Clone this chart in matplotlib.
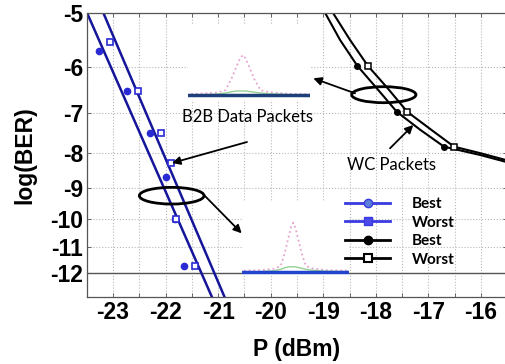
import numpy as np
import matplotlib
matplotlib.use("Agg")
import matplotlib.pyplot as plt
from matplotlib.lines import Line2D
from matplotlib.patches import Ellipse

plt.rcParams['axes.unicode_minus'] = False
plt.rcParams['font.family'] = ['Liberation Sans', 'DejaVu Sans']

# B2B data packets (blue)
b2b_best_p = [-23.26, -22.73, -22.29, -21.99, -21.82, -21.65]
b2b_best_ber = [-5.67, -6.50, -7.49, -8.69, -10.0, -11.71]
b2b_worst_p = [-23.05, -22.52, -22.08, -21.90, -21.80, -21.44]
b2b_worst_ber = [-5.50, -6.50, -7.49, -8.27, -10.0, -11.71]
b2b_best_fit_p = [-23.49, -21.12]
b2b_best_fit_ber = [-5.0, -13.0]
b2b_worst_fit_p = [-23.18, -20.88]
b2b_worst_fit_ber = [-5.0, -13.0]

# WC packets (black)
wc_best_p = [-18.35, -17.60, -16.70]
wc_best_ber = [-5.97, -6.97, -7.84]
wc_worst_p = [-18.15, -17.40, -16.51]
wc_worst_ber = [-5.97, -6.97, -7.84]
wc_best_fit_p = [-18.96, -18.68, -18.35, -17.98, -17.60, -17.15, -16.70, -16.02, -15.50]
wc_best_fit_ber = [-5.0, -5.47, -5.97, -6.44, -6.97, -7.41, -7.84, -8.06, -8.26]
wc_worst_fit_p = [-18.81, -18.49, -18.15, -17.78, -17.40, -16.95, -16.51, -16.02, -15.50]
wc_worst_fit_ber = [-5.0, -5.47, -5.97, -6.43, -6.97, -7.40, -7.84, -8.01, -8.21]

# inset spectra (relative frequency, normalised power)
spec_offset = [-1.3, -0.8, -0.45, -0.3, -0.2, -0.1, -0.05, 0.0, 0.05, 0.1, 0.2, 0.3, 0.45, 0.8, 1.4]
spec_pink = [0.02, 0.03, 0.06, 0.12, 0.4, 0.75, 0.92, 1.0, 0.9, 0.72, 0.38, 0.12, 0.07, 0.03, 0.02]
spec_green = [0, 0, 0.02, 0.05, 0.08, 0.1, 0.1, 0.1, 0.1, 0.09, 0.07, 0.05, 0.03, 0.01, 0]
spec_base = [0] * len(spec_offset)

x_ticks = [-23, -22, -21, -20, -19, -18, -17, -16]
y_ticks = [-5, -6, -7, -8, -9, -10, -11, -12]

W, H = 505, 364


def px(x, y):
    return (x / W, 1 - y / H)


def box(x0, y0, x1, y1):
    return [x0 / W, 1 - y1 / H, (x1 - x0) / W, (y1 - y0) / H]


fig = plt.figure(figsize=(5.05, 3.64), dpi=100)
ax = fig.add_axes(box(86.7, 13.3, 507.2, 296.7))


def fwd(v):
    with np.errstate(invalid='ignore', divide='ignore'):
        return -np.log10(-np.asarray(v, dtype=float))


def inv(u):
    return -10 ** (-np.asarray(u, dtype=float))


ax.set_yscale('function', functions=(fwd, inv))
ax.set_xlim(-23.5, -15.5)
ax.set_ylim(-13, -5)
ax.set_xticks(x_ticks)
ax.set_xticks(np.arange(-23.5, -15.4, 0.5), minor=True)
ax.set_yticks(y_ticks)
ax.set_yticklabels([str(t) for t in y_ticks])
ax.set_xticklabels([str(t) for t in x_ticks])
ax.grid(True, which='both', axis='x', ls=':', color='#b8b8b8', lw=0.8)
ax.grid(True, which='major', axis='y', ls=':', color='#b8b8b8', lw=0.8)
ax.tick_params(which='both', direction='in', top=True, right=True, length=3,
               width=0.7, color='#666666')
ax.tick_params(axis='x', pad=3)
ax.tick_params(axis='y', pad=2.7)
for lab in ax.get_xticklabels() + ax.get_yticklabels():
    lab.set_fontsize(16.5)
    lab.set_fontweight('bold')
for s in ax.spines.values():
    s.set_color('#555555')
    s.set_linewidth(0.9)

ax.axhline(-12, color='#555555', lw=1)

ax.plot(b2b_best_fit_p, b2b_best_fit_ber, color='#15159a', lw=1.8)
ax.plot(b2b_worst_fit_p, b2b_worst_fit_ber, color='#15159a', lw=1.8)
ax.plot(b2b_best_p, b2b_best_ber, 'o', ms=4.5, color='#2a2ad4', ls='none')
ax.plot(b2b_worst_p, b2b_worst_ber, 's', ms=4.3, mfc='white', mec='#2a2ad4', mew=1.2, ls='none')

ax.plot(wc_best_fit_p, wc_best_fit_ber, color='black', lw=1.5)
ax.plot(wc_worst_fit_p, wc_worst_fit_ber, color='black', lw=1.5)
ax.plot(wc_best_p, wc_best_ber, 'o', ms=4, color='black', ls='none')
ax.plot(wc_worst_p, wc_worst_ber, 's', ms=4.3, mfc='white', mec='black', mew=1.1, ls='none')

ax.set_xlabel('P (dBm)', fontsize=16.5, fontweight='bold', va='top')
ax.xaxis.set_label_coords(0.5, -0.1447)
ax.set_ylabel('log(BER)', fontsize=16.5, fontweight='bold')
ax.yaxis.set_label_coords(-0.119, 0.5)

# spectrum insets
def inset(rect, xlim, ylim, base_color):
    a = fig.add_axes(rect)
    a.set_facecolor('white')
    a.set_xticks([])
    a.set_yticks([])
    for s in a.spines.values():
        s.set_visible(False)
    a.set_xlim(*xlim)
    a.set_ylim(*ylim)
    a.plot(spec_offset, spec_pink, ls=':', color='#e6a3d0', lw=1.3)
    a.plot(spec_offset, spec_green, color='#7cc47c', lw=1.0, alpha=0.8)
    a.plot(spec_offset, spec_base, color=base_color, lw=2.5)
    return a


inset(box(188, 25, 310, 100), (-0.943, 1.149), (-0.125, 1.75), '#1d3f7a')
inset(box(242, 202, 349, 276), (-1.23, 1.336), (-0.088, 1.422), '#2244cc')

# annotations
ann_font = ['Lato', 'DejaVu Sans']
fig.text(*px(181.7, 122), 'B2B Data Packets', family=ann_font, fontsize=12,
         ha='left', va='baseline')
fig.text(*px(346.7, 170), 'WC Packets', family=ann_font, fontsize=12,
         ha='left', va='baseline')

arrow = dict(arrowstyle='-|>', color='black', lw=1.3, mutation_scale=12,
             shrinkA=0, shrinkB=0)
for start, end in [((247, 142), (172, 163)), ((205, 196), (241.7, 233.3)),
                   ((355, 93.3), (313.3, 78.3)), ((390, 148.3), (413.3, 125))]:
    fig.add_artist(matplotlib.text.Annotation('', xy=px(*end), xytext=px(*start),
                                              xycoords='figure fraction',
                                              textcoords='figure fraction',
                                              arrowprops=arrow))

for cx, cy, w, h in [(171.7, 195.7, 64.7, 16.7), (383.8, 94.7, 64.3, 16)]:
    fig.add_artist(Ellipse(px(cx, cy), w / W, h / H, transform=fig.transFigure,
                           fill=False, ec='black', lw=2))

# legend
handles = [
    Line2D([], [], color='#3a3ae0', lw=2, marker='o', ms=6, mfc='#5a80d8', mec='#3a3ae0'),
    Line2D([], [], color='#3a3ae0', lw=2, marker='s', ms=6, mfc='#4a4ae8', mec='#3a3ae0'),
    Line2D([], [], color='black', lw=2, marker='o', ms=6, mfc='black', mec='black'),
    Line2D([], [], color='black', lw=2, marker='s', ms=6, mfc='white', mec='black', mew=1.5),
]
fig.legend(handles, ['Best', 'Worst', 'Best', 'Worst'], loc='upper left',
           bbox_to_anchor=px(345, 197), bbox_transform=fig.transFigure,
           frameon=False, borderpad=0, borderaxespad=0, handlelength=2.95,
           handletextpad=1.4, labelspacing=0.3,
           prop={'family': ann_font, 'weight': 'bold', 'size': 11})

fig.savefig('out.png', dpi=100)
